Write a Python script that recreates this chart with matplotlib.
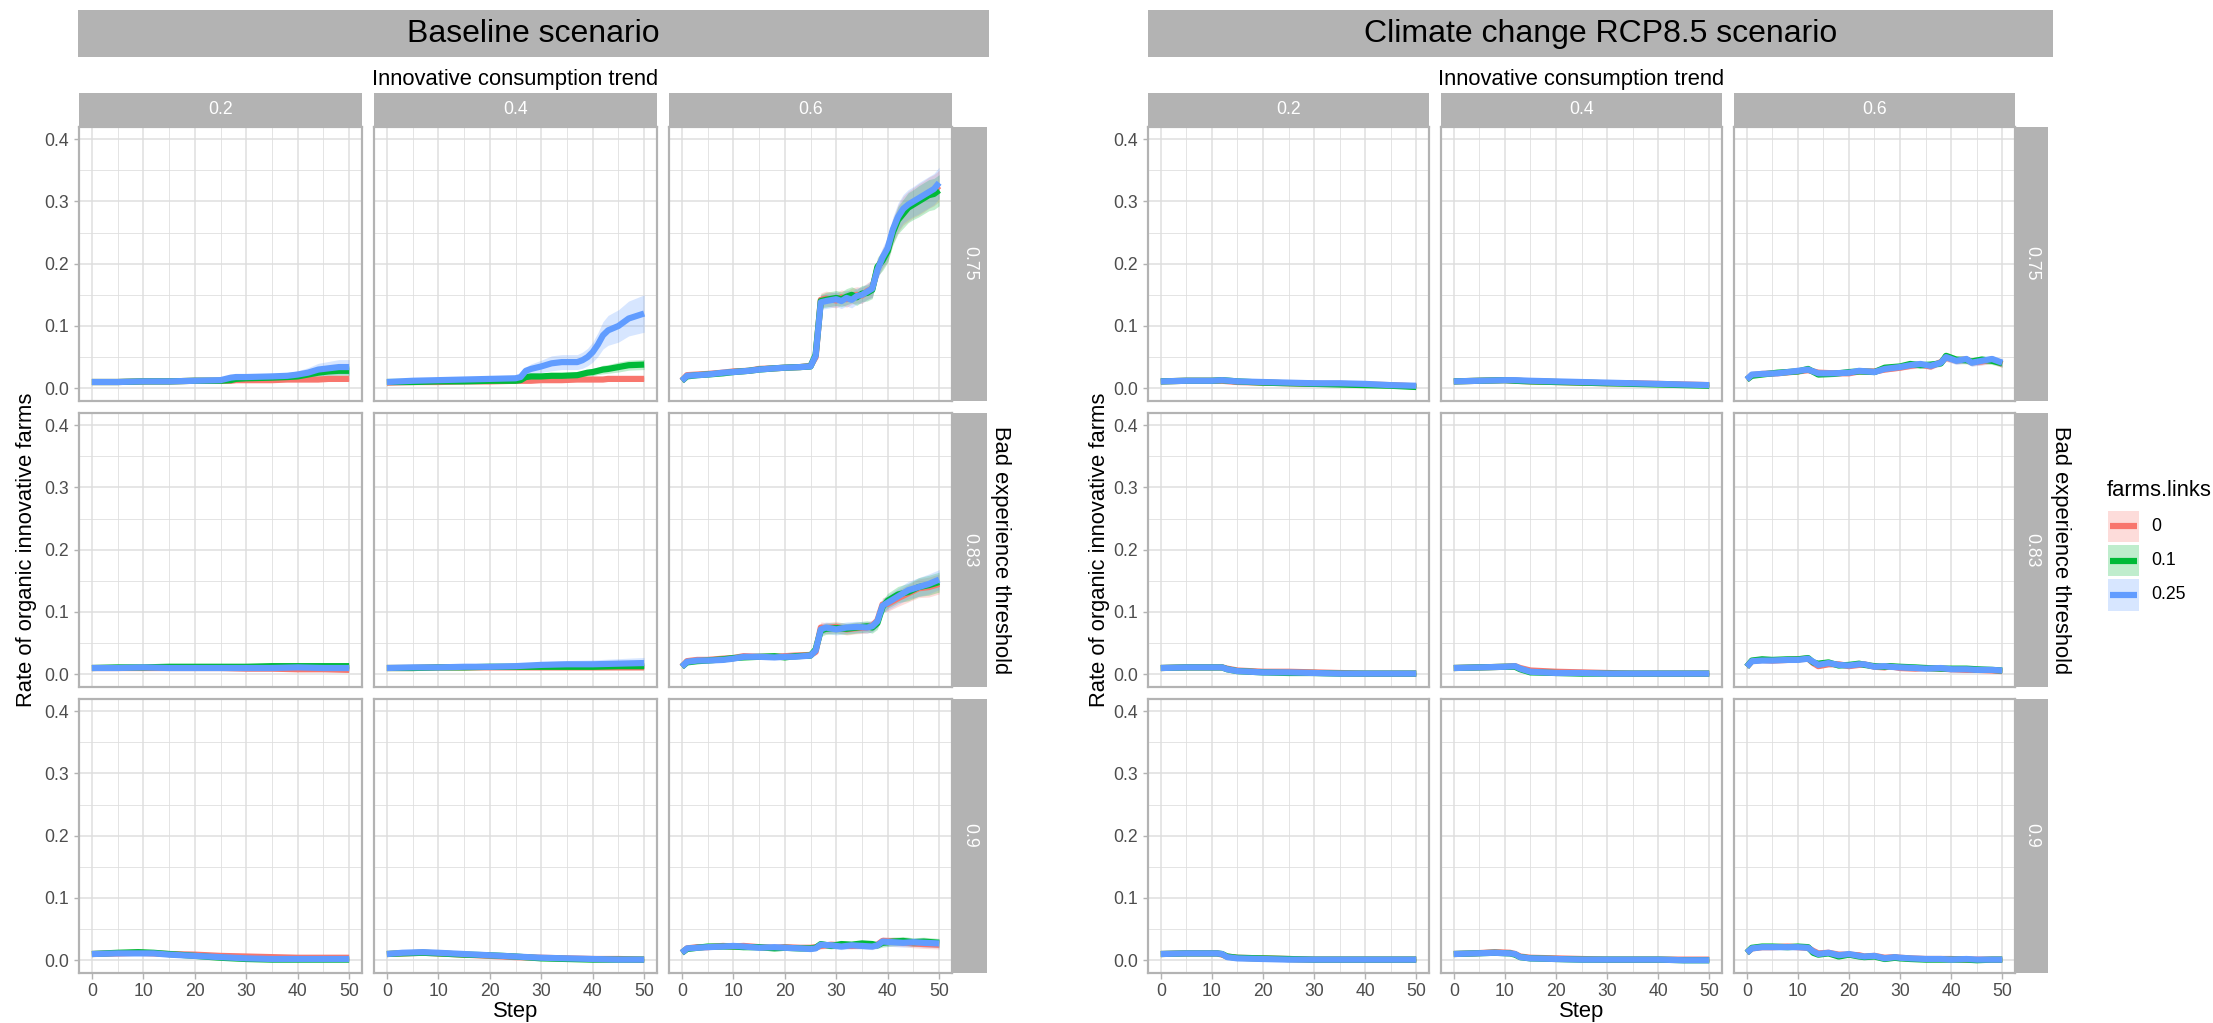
import numpy as np
import matplotlib
matplotlib.use("Agg")
import matplotlib.pyplot as plt
from matplotlib.patches import Rectangle

# ---------------- labels / categories ----------------
SCENARIOS = ["Baseline scenario", "Climate change RCP8.5 scenario"]
TRENDS = ["0.2", "0.4", "0.6"]
THRESHOLDS = ["0.75", "0.83", "0.9"]
LINKS = ["0", "0.1", "0.25"]
COLORS = ["#F8766D", "#00BA38", "#619CFF"]
X_TICKS = [0, 10, 20, 30, 40, 50]
Y_TICKS = [0.0, 0.1, 0.2, 0.3, 0.4]
Y_TICK_LABELS = ["0.0", "0.1", "0.2", "0.3", "0.4"]
X_LABEL = "Step"
Y_LABEL = "Rate of organic innovative farms"
COL_TITLE = "Innovative consumption trend"
ROW_TITLE = "Bad experience threshold"
LEGEND_TITLE = "farms.links"

# ---------------- Baseline, threshold 0.75 ----------------
B75_T2_X = [0, 5, 10, 15, 20, 25, 27, 28, 30, 35, 38, 40, 42, 44, 46, 48, 50]
B75_T2_Y0 = [0.010, 0.010, 0.011, 0.011, 0.012, 0.012, 0.012, 0.013, 0.013, 0.013, 0.014, 0.014, 0.014, 0.014, 0.015, 0.015, 0.015]
B75_T2_Y1 = [0.010, 0.010, 0.011, 0.011, 0.012, 0.012, 0.013, 0.015, 0.016, 0.017, 0.018, 0.019, 0.022, 0.025, 0.027, 0.028, 0.028]
B75_T2_Y2 = [0.010, 0.010, 0.011, 0.011, 0.012, 0.013, 0.017, 0.018, 0.018, 0.019, 0.020, 0.022, 0.025, 0.030, 0.032, 0.034, 0.034]
B75_T2_E0 = [0.002, 0.002, 0.002, 0.002, 0.002, 0.002, 0.002, 0.002, 0.002, 0.002, 0.003, 0.003, 0.003, 0.003, 0.003, 0.003, 0.003]
B75_T2_E1 = [0.002, 0.002, 0.002, 0.002, 0.002, 0.002, 0.003, 0.003, 0.004, 0.004, 0.004, 0.005, 0.006, 0.007, 0.008, 0.008, 0.008]
B75_T2_E2 = [0.002, 0.002, 0.002, 0.002, 0.002, 0.003, 0.004, 0.004, 0.004, 0.005, 0.005, 0.006, 0.008, 0.010, 0.011, 0.012, 0.012]

B75_T4_X = [0, 5, 10, 15, 20, 25, 26, 27, 28, 30, 32, 34, 37, 38, 39, 40, 41, 42, 43, 45, 47, 50]
B75_T4_Y0 = [0.009, 0.010, 0.010, 0.011, 0.011, 0.012, 0.012, 0.012, 0.012, 0.013, 0.013, 0.013, 0.014, 0.014, 0.014, 0.014, 0.014, 0.014, 0.015, 0.015, 0.015, 0.015]
B75_T4_Y1 = [0.010, 0.010, 0.011, 0.011, 0.012, 0.012, 0.013, 0.018, 0.019, 0.019, 0.020, 0.020, 0.021, 0.023, 0.025, 0.026, 0.028, 0.030, 0.031, 0.034, 0.037, 0.038]
B75_T4_Y2 = [0.010, 0.012, 0.013, 0.014, 0.015, 0.016, 0.018, 0.028, 0.031, 0.035, 0.040, 0.042, 0.042, 0.045, 0.050, 0.058, 0.070, 0.085, 0.093, 0.100, 0.112, 0.120]
B75_T4_E0 = [0.002, 0.002, 0.002, 0.002, 0.002, 0.002, 0.002, 0.002, 0.002, 0.002, 0.002, 0.002, 0.002, 0.002, 0.002, 0.002, 0.002, 0.003, 0.003, 0.003, 0.003, 0.003]
B75_T4_E1 = [0.002, 0.002, 0.002, 0.002, 0.002, 0.002, 0.002, 0.004, 0.004, 0.004, 0.004, 0.004, 0.005, 0.005, 0.005, 0.006, 0.006, 0.007, 0.007, 0.008, 0.008, 0.008]
B75_T4_E2 = [0.002, 0.002, 0.002, 0.002, 0.002, 0.003, 0.004, 0.006, 0.008, 0.010, 0.012, 0.012, 0.012, 0.013, 0.014, 0.016, 0.019, 0.022, 0.024, 0.026, 0.028, 0.030]

B75_T6_X = [0, 1, 3, 5, 8, 10, 13, 15, 18, 20, 23, 25, 26, 27, 28, 30, 31, 32, 33, 34, 35, 36, 37, 38, 39, 40, 41, 42, 43, 44, 45, 46, 47, 48, 49, 50]
B75_T6_Y0 = [0.012, 0.021, 0.022, 0.023, 0.025, 0.027, 0.028, 0.031, 0.032, 0.033, 0.034, 0.036, 0.050, 0.142, 0.144, 0.141, 0.146, 0.143, 0.148, 0.150, 0.149, 0.156, 0.160, 0.192, 0.208, 0.222, 0.252, 0.272, 0.285, 0.292, 0.298, 0.303, 0.308, 0.314, 0.318, 0.325]
B75_T6_Y1 = [0.012, 0.019, 0.021, 0.022, 0.024, 0.026, 0.028, 0.030, 0.032, 0.033, 0.034, 0.035, 0.054, 0.140, 0.142, 0.145, 0.143, 0.147, 0.150, 0.146, 0.152, 0.153, 0.158, 0.195, 0.205, 0.220, 0.250, 0.270, 0.280, 0.290, 0.295, 0.300, 0.305, 0.310, 0.312, 0.318]
B75_T6_Y2 = [0.012, 0.020, 0.021, 0.022, 0.025, 0.026, 0.028, 0.030, 0.032, 0.033, 0.034, 0.035, 0.052, 0.138, 0.140, 0.143, 0.140, 0.145, 0.142, 0.148, 0.150, 0.155, 0.160, 0.190, 0.210, 0.225, 0.255, 0.275, 0.288, 0.295, 0.300, 0.305, 0.310, 0.315, 0.320, 0.330]
B75_T6_E = [0.002, 0.003, 0.003, 0.003, 0.003, 0.003, 0.003, 0.003, 0.003, 0.003, 0.003, 0.004, 0.007, 0.011, 0.012, 0.012, 0.012, 0.013, 0.013, 0.013, 0.013, 0.013, 0.014, 0.015, 0.016, 0.018, 0.020, 0.022, 0.023, 0.024, 0.024, 0.025, 0.025, 0.025, 0.025, 0.025]

# ---------------- Baseline, threshold 0.83 ----------------
B83_T2_X = [0, 5, 10, 15, 20, 25, 30, 35, 40, 45, 50]
B83_T2_Y0 = [0.010, 0.010, 0.010, 0.010, 0.010, 0.010, 0.009, 0.009, 0.008, 0.008, 0.007]
B83_T2_Y1 = [0.010, 0.011, 0.011, 0.012, 0.012, 0.012, 0.012, 0.013, 0.013, 0.013, 0.013]
B83_T2_Y2 = [0.010, 0.010, 0.011, 0.010, 0.010, 0.010, 0.010, 0.010, 0.011, 0.010, 0.010]
B83_T2_E = 0.003

B83_T4_X = [0, 5, 10, 15, 20, 25, 30, 35, 40, 45, 50]
B83_T4_Y0 = [0.010, 0.010, 0.011, 0.011, 0.011, 0.011, 0.011, 0.011, 0.011, 0.011, 0.011]
B83_T4_Y1 = [0.010, 0.010, 0.011, 0.011, 0.012, 0.012, 0.012, 0.012, 0.012, 0.013, 0.013]
B83_T4_Y2 = [0.010, 0.011, 0.011, 0.012, 0.012, 0.013, 0.015, 0.016, 0.016, 0.017, 0.018]
B83_T4_E0 = 0.002
B83_T4_E1 = 0.003
B83_T4_E2 = [0.002, 0.002, 0.002, 0.003, 0.003, 0.004, 0.005, 0.006, 0.007, 0.008, 0.009]

B83_T6_X = [0, 1, 3, 5, 8, 10, 12, 15, 18, 20, 22, 25, 26, 27, 28, 30, 32, 34, 36, 37, 38, 39, 40, 42, 44, 46, 48, 50]
B83_T6_Y0 = [0.012, 0.021, 0.023, 0.023, 0.025, 0.026, 0.029, 0.028, 0.028, 0.029, 0.030, 0.031, 0.036, 0.075, 0.074, 0.076, 0.072, 0.074, 0.075, 0.078, 0.086, 0.112, 0.113, 0.122, 0.130, 0.138, 0.140, 0.145]
B83_T6_Y1 = [0.012, 0.019, 0.021, 0.022, 0.024, 0.026, 0.027, 0.028, 0.029, 0.027, 0.029, 0.030, 0.040, 0.070, 0.073, 0.074, 0.073, 0.075, 0.077, 0.075, 0.082, 0.108, 0.118, 0.128, 0.132, 0.140, 0.143, 0.148]
B83_T6_Y2 = [0.012, 0.020, 0.022, 0.022, 0.023, 0.025, 0.028, 0.028, 0.027, 0.028, 0.028, 0.030, 0.038, 0.072, 0.075, 0.072, 0.075, 0.076, 0.075, 0.077, 0.085, 0.110, 0.115, 0.125, 0.135, 0.140, 0.145, 0.152]
B83_T6_E = [0.002, 0.003, 0.003, 0.003, 0.003, 0.003, 0.003, 0.003, 0.003, 0.003, 0.003, 0.004, 0.005, 0.009, 0.009, 0.009, 0.009, 0.009, 0.009, 0.009, 0.010, 0.011, 0.012, 0.013, 0.014, 0.015, 0.016, 0.016]

# ---------------- Baseline, threshold 0.9 ----------------
B90_T2_X = [0, 5, 9, 12, 15, 20, 25, 30, 35, 40, 45, 50]
B90_T2_Y0 = [0.010, 0.011, 0.012, 0.011, 0.010, 0.009, 0.007, 0.006, 0.005, 0.004, 0.004, 0.004]
B90_T2_Y1 = [0.010, 0.012, 0.013, 0.012, 0.010, 0.007, 0.004, 0.002, 0.001, 0.001, 0.001, 0.001]
B90_T2_Y2 = [0.010, 0.011, 0.011, 0.011, 0.009, 0.007, 0.005, 0.003, 0.002, 0.002, 0.002, 0.002]
B90_T2_E = 0.002

B90_T4_X = [0, 3, 7, 10, 15, 20, 25, 30, 35, 40, 45, 50]
B90_T4_Y0 = [0.010, 0.011, 0.012, 0.011, 0.009, 0.007, 0.005, 0.004, 0.003, 0.002, 0.002, 0.001]
B90_T4_Y1 = [0.010, 0.011, 0.012, 0.011, 0.009, 0.008, 0.006, 0.003, 0.002, 0.001, 0.001, 0.001]
B90_T4_Y2 = [0.010, 0.012, 0.013, 0.012, 0.010, 0.008, 0.006, 0.004, 0.003, 0.002, 0.001, 0.001]
B90_T4_E = 0.002

B90_T6_X = [0, 1, 3, 5, 8, 10, 12, 15, 18, 20, 23, 25, 26, 27, 29, 31, 33, 35, 37, 38, 39, 41, 43, 45, 47, 50]
B90_T6_Y0 = [0.012, 0.019, 0.021, 0.021, 0.023, 0.022, 0.023, 0.021, 0.020, 0.021, 0.020, 0.020, 0.021, 0.023, 0.025, 0.024, 0.023, 0.024, 0.023, 0.025, 0.031, 0.030, 0.029, 0.027, 0.026, 0.025]
B90_T6_Y1 = [0.012, 0.018, 0.020, 0.022, 0.022, 0.022, 0.021, 0.021, 0.019, 0.020, 0.019, 0.019, 0.020, 0.026, 0.023, 0.026, 0.025, 0.027, 0.026, 0.024, 0.028, 0.030, 0.031, 0.029, 0.030, 0.028]
B90_T6_Y2 = [0.012, 0.019, 0.020, 0.021, 0.022, 0.023, 0.022, 0.020, 0.021, 0.020, 0.019, 0.018, 0.019, 0.025, 0.024, 0.022, 0.024, 0.023, 0.022, 0.024, 0.030, 0.029, 0.028, 0.029, 0.028, 0.027]
B90_T6_E = [0.002, 0.003, 0.003, 0.003, 0.003, 0.003, 0.003, 0.003, 0.003, 0.003, 0.003, 0.003, 0.003, 0.005, 0.005, 0.005, 0.005, 0.005, 0.005, 0.005, 0.007, 0.007, 0.007, 0.007, 0.007, 0.007]

# ---------------- Climate change, threshold 0.75 ----------------
C75_T2_X = [0, 5, 10, 12, 15, 20, 25, 30, 35, 40, 45, 50]
C75_T2_Y0 = [0.011, 0.012, 0.012, 0.012, 0.010, 0.009, 0.008, 0.007, 0.007, 0.006, 0.005, 0.003]
C75_T2_Y1 = [0.011, 0.012, 0.012, 0.013, 0.011, 0.009, 0.008, 0.007, 0.006, 0.005, 0.004, 0.002]
C75_T2_Y2 = [0.011, 0.012, 0.012, 0.013, 0.011, 0.010, 0.009, 0.008, 0.008, 0.007, 0.005, 0.004]
C75_T2_E = 0.002

C75_T4_X = [0, 5, 10, 12, 15, 20, 25, 30, 35, 40, 45, 50]
C75_T4_Y0 = [0.011, 0.012, 0.013, 0.012, 0.011, 0.010, 0.009, 0.008, 0.008, 0.007, 0.006, 0.005]
C75_T4_Y1 = [0.011, 0.012, 0.013, 0.012, 0.011, 0.010, 0.009, 0.008, 0.007, 0.006, 0.005, 0.004]
C75_T4_Y2 = [0.011, 0.012, 0.013, 0.013, 0.012, 0.011, 0.010, 0.009, 0.008, 0.007, 0.006, 0.005]
C75_T4_E = 0.002

C75_T6_X = [0, 1, 3, 6, 10, 12, 14, 17, 20, 22, 25, 27, 30, 32, 34, 36, 38, 39, 41, 43, 44, 46, 48, 50]
C75_T6_Y0 = [0.014, 0.021, 0.023, 0.024, 0.027, 0.029, 0.025, 0.024, 0.024, 0.027, 0.027, 0.030, 0.033, 0.036, 0.038, 0.035, 0.042, 0.049, 0.045, 0.046, 0.042, 0.043, 0.046, 0.039]
C75_T6_Y1 = [0.014, 0.020, 0.022, 0.025, 0.027, 0.031, 0.022, 0.023, 0.026, 0.027, 0.026, 0.033, 0.035, 0.039, 0.037, 0.038, 0.040, 0.052, 0.046, 0.045, 0.043, 0.046, 0.044, 0.040]
C75_T6_Y2 = [0.014, 0.022, 0.023, 0.024, 0.028, 0.030, 0.024, 0.024, 0.025, 0.028, 0.026, 0.031, 0.034, 0.037, 0.039, 0.036, 0.041, 0.050, 0.044, 0.047, 0.041, 0.044, 0.047, 0.041]
C75_T6_E = [0.002, 0.003, 0.003, 0.003, 0.003, 0.003, 0.003, 0.003, 0.003, 0.003, 0.004, 0.004, 0.004, 0.005, 0.005, 0.005, 0.005, 0.006, 0.006, 0.006, 0.006, 0.006, 0.006, 0.006]

# ---------------- Climate change, threshold 0.83 ----------------
C83_T2_X = [0, 5, 10, 12, 13, 15, 20, 25, 30, 35, 40, 45, 50]
C83_T2_Y0 = [0.010, 0.011, 0.011, 0.011, 0.009, 0.006, 0.004, 0.004, 0.003, 0.002, 0.001, 0.001, 0.001]
C83_T2_Y1 = [0.010, 0.011, 0.011, 0.011, 0.008, 0.005, 0.003, 0.002, 0.002, 0.001, 0.001, 0.001, 0.001]
C83_T2_Y2 = [0.010, 0.011, 0.011, 0.011, 0.008, 0.005, 0.003, 0.003, 0.002, 0.001, 0.001, 0.001, 0.001]
C83_T2_E = 0.002

C83_T4_X = [0, 5, 10, 12, 13, 15, 20, 25, 30, 35, 40, 45, 50]
C83_T4_Y0 = [0.010, 0.011, 0.012, 0.013, 0.010, 0.006, 0.004, 0.003, 0.002, 0.001, 0.001, 0.001, 0.001]
C83_T4_Y1 = [0.010, 0.011, 0.012, 0.012, 0.008, 0.003, 0.002, 0.001, 0.001, 0.001, 0.001, 0.001, 0.001]
C83_T4_Y2 = [0.010, 0.011, 0.012, 0.013, 0.009, 0.004, 0.002, 0.002, 0.001, 0.001, 0.001, 0.001, 0.001]
C83_T4_E = 0.002

C83_T6_X = [0, 1, 3, 5, 8, 10, 12, 13, 14, 16, 18, 20, 22, 23, 25, 27, 28, 30, 33, 35, 38, 40, 43, 45, 48, 50]
C83_T6_Y0 = [0.012, 0.021, 0.023, 0.022, 0.023, 0.024, 0.025, 0.018, 0.013, 0.016, 0.016, 0.013, 0.015, 0.016, 0.012, 0.011, 0.013, 0.010, 0.009, 0.010, 0.009, 0.008, 0.007, 0.007, 0.006, 0.005]
C83_T6_Y1 = [0.012, 0.022, 0.024, 0.023, 0.024, 0.024, 0.026, 0.019, 0.017, 0.019, 0.014, 0.015, 0.017, 0.015, 0.013, 0.012, 0.013, 0.012, 0.011, 0.010, 0.009, 0.009, 0.009, 0.008, 0.007, 0.006]
C83_T6_Y2 = [0.012, 0.021, 0.022, 0.022, 0.023, 0.023, 0.025, 0.020, 0.015, 0.018, 0.015, 0.014, 0.016, 0.016, 0.012, 0.013, 0.012, 0.011, 0.010, 0.009, 0.010, 0.008, 0.008, 0.007, 0.007, 0.006]
C83_T6_E = 0.003

# ---------------- Climate change, threshold 0.9 ----------------
C90_T2_X = [0, 5, 11, 12, 13, 15, 20, 25, 30, 35, 40, 45, 50]
C90_T2_Y0 = [0.010, 0.011, 0.011, 0.009, 0.006, 0.004, 0.003, 0.002, 0.001, 0.001, 0.001, 0.001, 0.001]
C90_T2_Y1 = [0.010, 0.011, 0.011, 0.010, 0.006, 0.004, 0.003, 0.002, 0.001, 0.001, 0.001, 0.001, 0.001]
C90_T2_Y2 = [0.010, 0.011, 0.011, 0.010, 0.005, 0.003, 0.002, 0.001, 0.001, 0.001, 0.001, 0.001, 0.001]
C90_T2_E = 0.002

C90_T4_X = [0, 4, 8, 11, 12, 13, 15, 20, 25, 30, 35, 40, 45, 50]
C90_T4_Y0 = [0.010, 0.011, 0.013, 0.012, 0.010, 0.006, 0.004, 0.003, 0.002, 0.001, 0.001, 0.001, 0.001, 0.001]
C90_T4_Y1 = [0.010, 0.011, 0.012, 0.011, 0.009, 0.005, 0.003, 0.002, 0.001, 0.001, 0.001, 0.001, 0.000, 0.000]
C90_T4_Y2 = [0.010, 0.011, 0.012, 0.011, 0.010, 0.005, 0.003, 0.002, 0.001, 0.001, 0.001, 0.001, 0.000, 0.000]
C90_T4_E = 0.002

C90_T6_X = [0, 1, 3, 5, 8, 10, 12, 13, 14, 16, 18, 20, 22, 23, 25, 27, 29, 30, 32, 35, 38, 40, 43, 45, 48, 50]
C90_T6_Y0 = [0.012, 0.019, 0.021, 0.021, 0.022, 0.021, 0.020, 0.015, 0.011, 0.012, 0.009, 0.009, 0.008, 0.006, 0.007, 0.004, 0.005, 0.004, 0.003, 0.002, 0.002, 0.002, 0.001, 0.001, 0.001, 0.001]
C90_T6_Y1 = [0.012, 0.020, 0.022, 0.022, 0.021, 0.022, 0.021, 0.012, 0.009, 0.011, 0.006, 0.009, 0.006, 0.005, 0.006, 0.002, 0.004, 0.003, 0.002, 0.001, 0.001, 0.001, 0.001, 0.000, 0.001, 0.001]
C90_T6_Y2 = [0.012, 0.019, 0.021, 0.021, 0.021, 0.021, 0.020, 0.014, 0.010, 0.012, 0.008, 0.010, 0.007, 0.006, 0.007, 0.003, 0.005, 0.004, 0.003, 0.002, 0.002, 0.001, 0.002, 0.001, 0.001, 0.001]
C90_T6_E = 0.003

# ---------------- assemble panel table from the named lists ----------------
def _panel(x, y0, y1, y2, e0, e1=None, e2=None):
    e1 = e0 if e1 is None else e1
    e2 = e0 if e2 is None else e2
    return x, (y0, y1, y2), (e0, e1, e2)

PANELS = {
    (0, 0, 0): _panel(B75_T2_X, B75_T2_Y0, B75_T2_Y1, B75_T2_Y2, B75_T2_E0, B75_T2_E1, B75_T2_E2),
    (0, 0, 1): _panel(B75_T4_X, B75_T4_Y0, B75_T4_Y1, B75_T4_Y2, B75_T4_E0, B75_T4_E1, B75_T4_E2),
    (0, 0, 2): _panel(B75_T6_X, B75_T6_Y0, B75_T6_Y1, B75_T6_Y2, B75_T6_E),
    (0, 1, 0): _panel(B83_T2_X, B83_T2_Y0, B83_T2_Y1, B83_T2_Y2, B83_T2_E),
    (0, 1, 1): _panel(B83_T4_X, B83_T4_Y0, B83_T4_Y1, B83_T4_Y2, B83_T4_E0, B83_T4_E1, B83_T4_E2),
    (0, 1, 2): _panel(B83_T6_X, B83_T6_Y0, B83_T6_Y1, B83_T6_Y2, B83_T6_E),
    (0, 2, 0): _panel(B90_T2_X, B90_T2_Y0, B90_T2_Y1, B90_T2_Y2, B90_T2_E),
    (0, 2, 1): _panel(B90_T4_X, B90_T4_Y0, B90_T4_Y1, B90_T4_Y2, B90_T4_E),
    (0, 2, 2): _panel(B90_T6_X, B90_T6_Y0, B90_T6_Y1, B90_T6_Y2, B90_T6_E),
    (1, 0, 0): _panel(C75_T2_X, C75_T2_Y0, C75_T2_Y1, C75_T2_Y2, C75_T2_E),
    (1, 0, 1): _panel(C75_T4_X, C75_T4_Y0, C75_T4_Y1, C75_T4_Y2, C75_T4_E),
    (1, 0, 2): _panel(C75_T6_X, C75_T6_Y0, C75_T6_Y1, C75_T6_Y2, C75_T6_E),
    (1, 1, 0): _panel(C83_T2_X, C83_T2_Y0, C83_T2_Y1, C83_T2_Y2, C83_T2_E),
    (1, 1, 1): _panel(C83_T4_X, C83_T4_Y0, C83_T4_Y1, C83_T4_Y2, C83_T4_E),
    (1, 1, 2): _panel(C83_T6_X, C83_T6_Y0, C83_T6_Y1, C83_T6_Y2, C83_T6_E),
    (1, 2, 0): _panel(C90_T2_X, C90_T2_Y0, C90_T2_Y1, C90_T2_Y2, C90_T2_E),
    (1, 2, 1): _panel(C90_T4_X, C90_T4_Y0, C90_T4_Y1, C90_T4_Y2, C90_T4_E),
    (1, 2, 2): _panel(C90_T6_X, C90_T6_Y0, C90_T6_Y1, C90_T6_Y2, C90_T6_E),
}

# ---------------- styling / layout ----------------
plt.rcParams["font.family"] = ["Liberation Sans", "DejaVu Sans"]
W, H, DPI = 2213, 1023, 144
STRIP = "#B3B3B3"
GRID = "#DEDEDE"
BORDER = "#B3B3B3"
TICKTXT = "#4D4D4D"
LINE_W = 3.1
RIBBON_ALPHA = 0.25

fig = plt.figure(figsize=(W / DPI, H / DPI), dpi=DPI, facecolor="white")

ov = fig.add_axes([0, 0, 1, 1], zorder=-5)
ov.set_xlim(0, W)
ov.set_ylim(H, 0)
ov.axis("off")


def rect(x0, x1, y0, y1):
    return [x0 / W, 1 - y1 / H, (x1 - x0) / W, (y1 - y0) / H]


COLS_PX = [
    [(79, 362), (374, 657), (669, 952)],
    [(1148, 1429), (1441, 1722), (1734, 2015)],
]
RSTRIP_PX = [(952, 987), (2015, 2048)]
ROWS_PX = [(126.7, 400.7), (412.7, 686.7), (698.7, 972.7)]
TSTRIP_PX = (92.5, 126.7)
TITLE_PX = [(78, 989), (1148, 2053)]
TITLE_Y = (10, 56.7)
YLAB_X = [27, 1099]
RLAB_X = [1000, 2061]

for s in range(2):
    # scenario title strip
    tx0, tx1 = TITLE_PX[s]
    ov.add_patch(Rectangle((tx0, TITLE_Y[0]), tx1 - tx0, TITLE_Y[1] - TITLE_Y[0],
                           facecolor=STRIP, edgecolor="none"))
    ov.text((tx0 + tx1) / 2, (TITLE_Y[0] + TITLE_Y[1]) / 2 + 1, SCENARIOS[s],
            ha="center", va="center", fontsize=16, color="black")
    px0 = COLS_PX[s][0][0]
    px1 = COLS_PX[s][2][1]
    pmid = (px0 + px1) / 2
    ov.text(pmid, 80, COL_TITLE, ha="center", va="center", fontsize=11, color="black")
    ymid = (ROWS_PX[0][0] + ROWS_PX[2][1]) / 2
    ov.text(RLAB_X[s], ymid, ROW_TITLE, ha="center", va="center", fontsize=11,
            rotation=270, color="black")
    ov.text(YLAB_X[s], ymid, Y_LABEL, ha="center", va="center", fontsize=11,
            rotation=90, color="black")
    ov.text(pmid, 1011, X_LABEL, ha="center", va="center", fontsize=11, color="black")

    # column strips
    for c, (cx0, cx1) in enumerate(COLS_PX[s]):
        ov.add_patch(Rectangle((cx0, TSTRIP_PX[0]), cx1 - cx0, TSTRIP_PX[1] - TSTRIP_PX[0],
                               facecolor=STRIP, edgecolor="none"))
        ov.text((cx0 + cx1) / 2, (TSTRIP_PX[0] + TSTRIP_PX[1]) / 2, TRENDS[c],
                ha="center", va="center", fontsize=8.8, color="white")
    # row strips
    sx0, sx1 = RSTRIP_PX[s]
    for r, (ry0, ry1) in enumerate(ROWS_PX):
        ov.add_patch(Rectangle((sx0, ry0), sx1 - sx0, ry1 - ry0,
                               facecolor=STRIP, edgecolor="none"))
        ov.text((sx0 + sx1) / 2, (ry0 + ry1) / 2, THRESHOLDS[r], ha="center",
                va="center", fontsize=8.8, color="white", rotation=270)

    for r, (ry0, ry1) in enumerate(ROWS_PX):
        for c, (cx0, cx1) in enumerate(COLS_PX[s]):
            ax = fig.add_axes(rect(cx0, cx1, ry0, ry1))
            ax.set_facecolor("white")
            ax.set_xlim(-2.5, 52.5)
            ax.set_ylim(-0.02, 0.42)
            ax.set_xticks(X_TICKS)
            ax.set_xticks([5, 15, 25, 35, 45], minor=True)
            ax.set_yticks(Y_TICKS)
            ax.set_yticklabels(Y_TICK_LABELS)
            ax.set_yticks([0.05, 0.15, 0.25, 0.35], minor=True)
            ax.grid(which="major", color=GRID, linewidth=0.75)
            ax.grid(which="minor", color=GRID, linewidth=0.4)
            ax.set_axisbelow(True)
            for sp in ax.spines.values():
                sp.set_color(BORDER)
                sp.set_linewidth(1.1)
            ax.tick_params(which="major", length=2.75, width=0.7, color=BORDER,
                           pad=2.2, labelsize=8.8, labelcolor=TICKTXT)
            ax.tick_params(which="minor", length=0)
            ax.tick_params(left=(c == 0), labelleft=(c == 0),
                           bottom=(r == 2), labelbottom=(r == 2))

            x, ys, es = PANELS[(s, r, c)]
            x = np.asarray(x, float)
            for k in range(3):
                y = np.asarray(ys[k], float)
                e = np.broadcast_to(np.asarray(es[k], float), y.shape)
                assert len(x) == len(y) == len(e), (s, r, c, k, len(x), len(y), len(e))
                ax.fill_between(x, y - e, y + e, color=COLORS[k], alpha=RIBBON_ALPHA,
                                linewidth=0)
            for k in range(3):
                ax.plot(x, ys[k], color=COLORS[k], linewidth=LINE_W,
                        solid_capstyle="butt", solid_joinstyle="round")

# legend
ov.text(2107, 490, LEGEND_TITLE, ha="left", va="center", fontsize=11, color="black")
KEY_Y = [(510.7, 541.7), (545, 576), (579, 610.7)]
for k, (ky0, ky1) in enumerate(KEY_Y):
    ov.add_patch(Rectangle((2107.7, ky0), 31.6, ky1 - ky0, facecolor=COLORS[k],
                           alpha=RIBBON_ALPHA, edgecolor="none"))
    ov.plot([2110, 2137], [(ky0 + ky1) / 2] * 2, color=COLORS[k], linewidth=LINE_W,
            solid_capstyle="butt")
    ov.text(2151, (ky0 + ky1) / 2, LINKS[k], ha="left", va="center", fontsize=8.8,
            color="black")

fig.savefig("out.png", dpi=DPI, facecolor="white")
